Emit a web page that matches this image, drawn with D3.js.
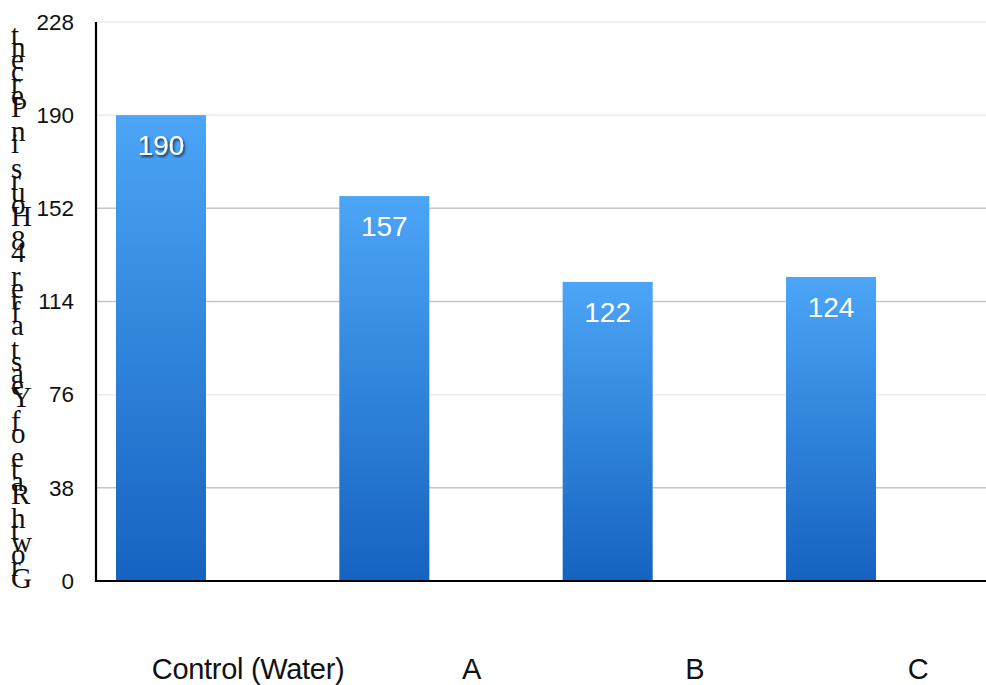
<!DOCTYPE html>
<html>
<head>
<meta charset="utf-8">
<script src="https://cdn.jsdelivr.net/npm/d3@7"></script>
<style>
  html, body { margin: 0; padding: 0; background: #fff; }
  svg { display: block; }
</style>
</head>
<body>
<svg id="chart" width="986" height="685"></svg>
<script>
// ---- data ----
const categories = ["Control (Water)", "A", "B", "C"];
const values = [190, 157, 122, 124];
const yTicks = [0, 38, 76, 114, 152, 190, 228];
const yMax = 228;
const yTitle = "Growth Rate of Yeast after 48 Hours in Percent";

// ---- layout ----
const plotLeft = 97, plotTop = 22, plotBottom = 581, plotRight = 986;

const svg = d3.select("#chart");

const defs = svg.append("defs");
const grad = defs.append("linearGradient")
  .attr("id", "barGrad").attr("x1", 0).attr("y1", 0).attr("x2", 0).attr("y2", 1);
grad.append("stop").attr("offset", "0%").attr("stop-color", "#4ca5f6");
grad.append("stop").attr("offset", "100%").attr("stop-color", "#1563c0");

const shadow = defs.append("filter").attr("id", "lblShadow")
  .attr("x", "-20%").attr("y", "-20%").attr("width", "140%").attr("height", "160%");
shadow.append("feDropShadow").attr("dx", 1.5).attr("dy", 2).attr("stdDeviation", 1)
  .attr("flood-color", "#0a1e3a").attr("flood-opacity", 0.85);

const x = d3.scaleBand()
  .domain(categories)
  .range([plotLeft, 895])
  .paddingInner(0.597)
  .paddingOuter(0.085);

const y = d3.scaleLinear().domain([0, yMax]).range([plotBottom, plotTop]);

// gridlines
const strongGrid = new Set([38, 114, 152]);
svg.append("g").selectAll("line")
  .data(yTicks.filter(d => d > 0))
  .join("line")
  .attr("x1", plotLeft).attr("x2", plotRight)
  .attr("y1", d => y(d)).attr("y2", d => y(d))
  .attr("stroke", d => strongGrid.has(d) ? "#c6c6c6" : "#ececec")
  .attr("stroke-width", 1.5);

// y axis tick labels
const yAxis = d3.axisLeft(y).tickValues(yTicks).tickSize(0).tickPadding(23);
const gy = svg.append("g").attr("transform", `translate(${plotLeft},0)`).call(yAxis);
gy.select(".domain").remove();
gy.selectAll("text")
  .attr("font-family", "'Liberation Sans', Arial, sans-serif")
  .attr("font-size", 22.5)
  .attr("fill", "#111");

// bars
svg.append("g").selectAll("rect")
  .data(values)
  .join("rect")
  .attr("x", (d, i) => x(categories[i]))
  .attr("width", x.bandwidth())
  .attr("y", d => y(d))
  .attr("height", d => y(0) - y(d))
  .attr("fill", "url(#barGrad)");

// value labels
svg.append("g").selectAll("text")
  .data(values)
  .join("text")
  .attr("x", (d, i) => x(categories[i]) + x.bandwidth() / 2)
  .attr("y", d => y(d) + 40)
  .attr("text-anchor", "middle")
  .attr("font-family", "'Liberation Sans', Arial, sans-serif")
  .attr("font-size", 28)
  .attr("fill", "#fff")
  .attr("filter", (d, i) => i === 0 ? "url(#lblShadow)" : null)
  .text(d => d);

// axis lines
svg.append("line")
  .attr("x1", plotLeft - 1).attr("x2", plotLeft - 1)
  .attr("y1", y(yMax)).attr("y2", plotBottom + 1)
  .attr("stroke", "#000").attr("stroke-width", 2.2);
svg.append("line")
  .attr("x1", plotLeft - 2).attr("x2", plotRight)
  .attr("y1", plotBottom).attr("y2", plotBottom)
  .attr("stroke", "#000").attr("stroke-width", 2.2);

// category labels (offset to the right of the bars, as in the original)
svg.append("g").selectAll("text")
  .data(categories)
  .join("text")
  .attr("x", d => x(d) + x.bandwidth() / 2 + x.step() * 0.39)
  .attr("y", 679)
  .attr("text-anchor", "middle")
  .attr("font-family", "'Liberation Sans', Arial, sans-serif")
  .attr("font-size", 29)
  .attr("letter-spacing", -0.3)
  .attr("fill", "#111")
  .text(d => d);

// y title: upright glyphs stacked bottom-to-top
const chars = Array.from(yTitle);
const charStep = 12.07;
const t = svg.append("text")
  .attr("font-family", "'Liberation Serif', 'Times New Roman', serif")
  .attr("font-size", 29)
  .attr("fill", "#111");
t.selectAll("tspan")
  .data(chars)
  .join("tspan")
  .attr("x", 11)
  .attr("y", (c, i) => 588 - i * charStep)
  .text(c => c === " " ? "\u00a0" : c);
</script>
</body>
</html>
